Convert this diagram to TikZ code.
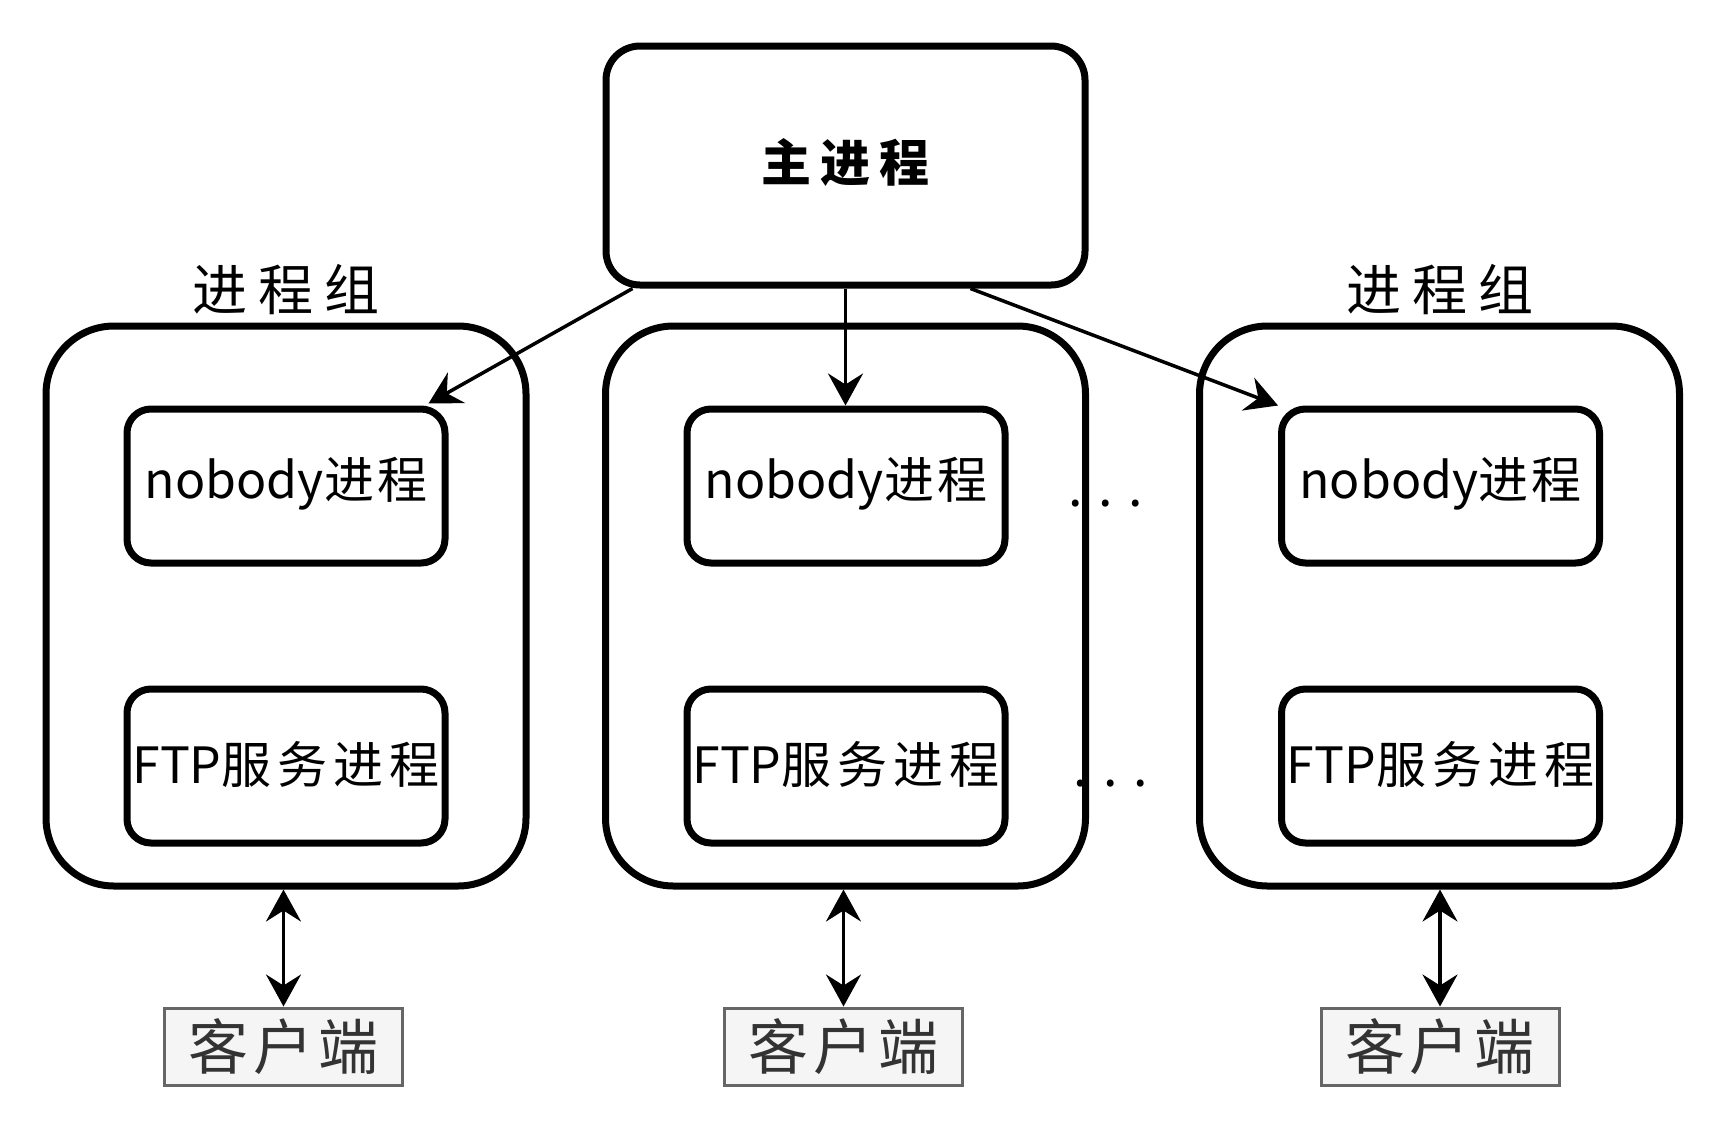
\documentclass[tikz,border=0pt]{standalone}
\usepackage{fontspec}
\setmainfont{Noto Sans CJK SC}
\usetikzlibrary{arrows.meta,calc}
\definecolor{clifill}{HTML}{F5F5F5}
\definecolor{clidraw}{HTML}{666666}
\definecolor{clitext}{HTML}{333333}
\newcommand{\lsp}[2]{{\addfontfeature{LetterSpace=#1}#2}}
\begin{document}
\begin{tikzpicture}[x=1pt,y=-1pt,
  grp/.style={draw,line width=7pt,rounded corners=68pt,minimum width=480pt,minimum height=560pt,inner sep=0pt},
  proc/.style={draw,line width=7pt,rounded corners=24pt,minimum width=318pt,minimum height=154pt,inner sep=0pt,font=\fontsize{50pt}{50pt}\selectfont},
  nob/.style={proc,text height=38pt,text depth=14pt},
  ftp/.style={proc,text height=38pt,text depth=4pt},
  mainbox/.style={draw,line width=7pt,rounded corners=34pt,minimum width=479pt,minimum height=239pt,inner sep=0pt,font=\fontsize{50pt}{50pt}\selectfont\bfseries,text height=38pt,text depth=7pt},
  client/.style={draw=clidraw,fill=clifill,text=clitext,line width=3pt,minimum width=238pt,minimum height=77pt,inner sep=0pt,font=\fontsize{60pt}{60pt}\selectfont,text height=52pt,text depth=7pt},
  grplabel/.style={anchor=base,inner sep=0pt,font=\fontsize{55pt}{55pt}\selectfont},
  dotsl/.style={anchor=base,inner sep=0pt,font=\fontsize{52pt}{52pt}\selectfont},
  arr/.style={line width=3.5pt,-{Stealth[length=32pt,width=35pt,inset=11pt]}},
  darr/.style={line width=3.5pt,{Stealth[length=32pt,width=35pt,inset=11pt]}-{Stealth[length=32pt,width=35pt,inset=11pt]}}
]
\useasboundingbox (0,0) rectangle (1720,1128);

% main process
\node[mainbox] (main) at (845.5,165.5) {\lsp{18}{主进程}};

% groups
\node[grp] (lg) at (286,606) {};
\node[grp] (mg) at (845.5,606) {};
\node[grp] (rg) at (1439.5,606) {};

\node[grplabel] (lgl) at (286,310) {\lsp{20}{进程组}};
\node[grplabel] (rgl) at (1439.5,310) {\lsp{20}{进程组}};

% nobody processes
\node[nob] (ln) at (286,486) {nobody\lsp{6}{进程}};
\node[nob] (mn) at (846,486) {nobody\lsp{6}{进程}};
\node[nob] (rn) at (1440.5,486) {nobody\lsp{6}{进程}};

% FTP service processes
\node[ftp] (lf) at (286,766) {FTP\lsp{12}{服务进程}};
\node[ftp] (mf) at (846,766) {FTP\lsp{12}{服务进程}};
\node[ftp] (rf) at (1440.5,766) {FTP\lsp{12}{服务进程}};

% dots
\node[dotsl] (d1) at (1106,506) {. . .};
\node[dotsl] (d2) at (1110.5,786) {. . .};

% clients
\node[client] (lc) at (283.5,1046.5) {\lsp{8}{客户端}};
\node[client] (mc) at (843.5,1046.5) {\lsp{8}{客户端}};
\node[client] (rc) at (1440,1046.5) {\lsp{8}{客户端}};

% arrows from main
\draw[arr] ($(main.south west)+(30,0)$) -- ($(ln.north east)+(-20,-2)$);
\draw[arr] (main.south) -- (main.south |- mn.north);
\draw[arr] ($(main.south east)+(-118,0)$) -- (rn.north west);

% client links
\draw[darr] (lc.north |- lg.south) -- (lc.north);
\draw[darr] (mc.north |- mg.south) -- (mc.north);
\draw[darr] (rc.north |- rg.south) -- (rc.north);
\end{tikzpicture}
\end{document}
